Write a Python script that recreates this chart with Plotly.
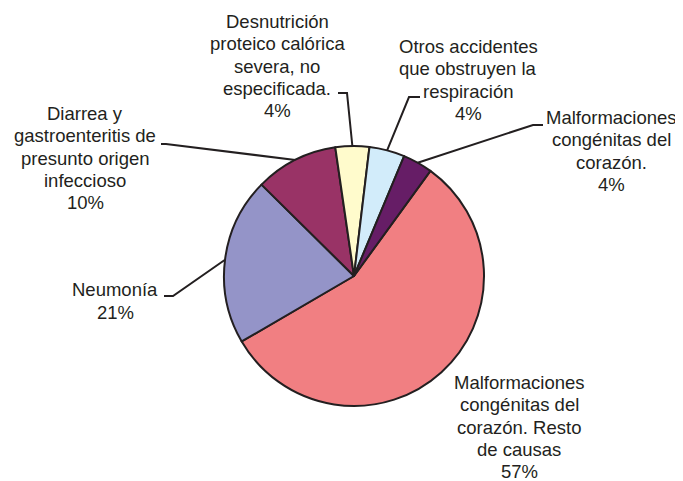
import math
import plotly.graph_objects as go

# datos (porcentajes)
causas = [
    "Malformaciones<br>congénitas del<br>corazón. Resto<br>de causas",
    "Neumonía",
    "Diarrea y<br>gastroenteritis de<br>presunto origen<br>infeccioso",
    "Desnutrición<br>proteico calórica<br>severa, no<br>especificada.",
    "Otros accidentes<br>que obstruyen la<br>respiración",
    "Malformaciones<br>congénitas del<br>corazón.",
]
porcentajes = [56.6, 20.8, 10.3, 4.2, 4.4, 3.7]
colores = ["#F17F82", "#9494C8", "#993366", "#FFFBCC", "#D2ECFA", "#661D66"]

# la página html deja 8px de margen en el body
OFF = 8
W, H = 683 - OFF, 481 - OFF
TXT = "#231F20"
ROT = 36  # primer sector empieza a 36 grados (sentido horario)
PASO = 22.3  # interlineado de las etiquetas

# posición del pastel en píxeles de la ventana
cx, cy, r = 354, 276, 130

def px(x):
    return (x - OFF) / W

def py(y):
    return 1 - (y - OFF) / H

# posición de cada etiqueta: centro del texto, inicio y codo de la línea guía
etiquetas = [
    dict(x=519, y=427, linea=None),
    dict(x=115, y=301, linea=[(164, 296), (173, 296)]),
    dict(x=85, y=158, linea=[(161, 144), (166, 144)]),
    dict(x=277, y=66, linea=[(338, 93), (347, 93)]),
    dict(x=468, y=80, linea=[(420, 97), (409, 97)]),
    dict(x=611, y=151, linea=[(543, 125), (533, 125)]),
]

fig = go.Figure(go.Pie(
    labels=causas,
    values=porcentajes,
    sort=False,
    direction="clockwise",
    rotation=ROT,
    marker=dict(colors=colores, line=dict(color=TXT, width=2)),
    textinfo="none",
    hoverinfo="label+percent",
    showlegend=False,
    domain=dict(x=[px(cx - r), px(cx + r)], y=[py(cy + r), py(cy - r)]),
))

total = sum(porcentajes)
acum = 0
for causa, v, et in zip(causas, porcentajes, etiquetas):
    medio = math.radians(ROT + (acum + v / 2) / total * 360)
    acum += v
    lineas = causa.split("<br>") + [f"{round(v / total * 100)}%"]
    n = len(lineas)
    for i, t in enumerate(lineas):
        fig.add_annotation(
            x=px(et["x"]), y=py(et["y"] + (i - (n - 1) / 2) * PASO),
            xref="paper", yref="paper",
            text=t, showarrow=False,
            xanchor="center", yanchor="middle",
            font=dict(size=18.5, color=TXT),
        )
    if et["linea"]:
        ex = cx + r * math.sin(medio)
        ey = cy - r * math.cos(medio)
        (x0, y0), (x1, y1) = et["linea"]
        fig.add_shape(
            type="path",
            path=f"M {px(x0)} {py(y0)} L {px(x1)} {py(y1)} L {px(ex)} {py(ey)}",
            xref="paper", yref="paper",
            line=dict(color=TXT, width=2),
        )

fig.update_layout(
    width=W, height=H,
    margin=dict(l=0, r=0, t=0, b=0),
    paper_bgcolor="white", plot_bgcolor="white",
    font=dict(family="Arial, Liberation Sans, sans-serif", color=TXT),
)

fig.write_html("out.html")
